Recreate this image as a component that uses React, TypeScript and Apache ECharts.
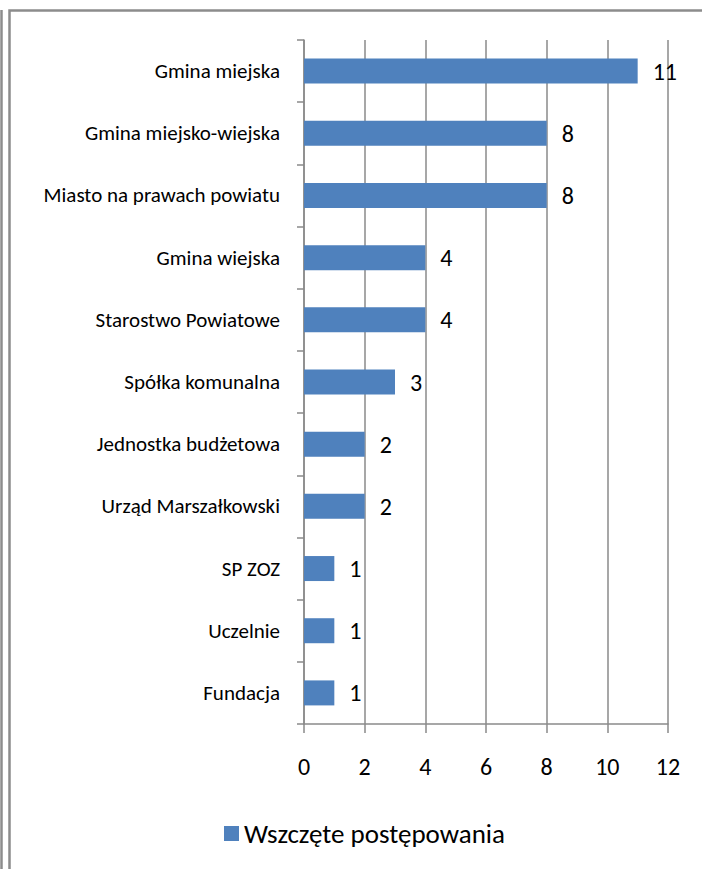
import React, { useEffect, useRef } from "react";
import * as echarts from "echarts";

const categories = [
  "Gmina miejska",
  "Gmina miejsko-wiejska",
  "Miasto na prawach powiatu",
  "Gmina wiejska",
  "Starostwo Powiatowe",
  "Spółka komunalna",
  "Jednostka budżetowa",
  "Urząd Marszałkowski",
  "SP ZOZ",
  "Uczelnie",
  "Fundacja",
];
const values = [11, 8, 8, 4, 4, 3, 2, 2, 1, 1, 1];
const seriesName = "Wszczęte postępowania";

const FONT = "Calibri, Carlito, Lato, sans-serif";
const GRAY = "#8a8a8a";

export default function App() {
  const ref = useRef<HTMLDivElement>(null);
  useEffect(() => {
    if (!ref.current) return;
    const chart = echarts.init(ref.current, null, { renderer: "svg" });
    chart.setOption({
      animation: false,
      backgroundColor: "#fff",
      textStyle: { fontFamily: FONT, color: "#000" },
      grid: { left: 304, right: 34, top: 40, bottom: 145, containLabel: false },
      xAxis: {
        type: "value",
        min: 0,
        max: 12,
        interval: 2,
        axisLine: { show: true, lineStyle: { color: GRAY, width: 1.5 } },
        axisTick: { show: true, length: 9, lineStyle: { color: GRAY, width: 1.5 } },
        splitLine: { show: true, lineStyle: { color: GRAY, width: 1.5 } },
        axisLabel: { fontSize: 24, color: "#000", margin: 30, fontFamily: FONT },
      },
      yAxis: {
        type: "category",
        data: categories,
        inverse: true,
        axisLine: { show: true, lineStyle: { color: GRAY, width: 1.5 } },
        axisTick: { show: true, length: 7, lineStyle: { color: GRAY, width: 1.5 } },
        axisLabel: { fontSize: 21, color: "#000", margin: 24, fontFamily: FONT },
      },
      legend: {
        data: [seriesName],
        left: 224,
        top: 820,
        padding: 0,
        itemWidth: 15,
        itemHeight: 15,
        icon: "rect",
        textStyle: { fontSize: 27, color: "#000", fontFamily: FONT },
      },
      series: [
        {
          name: seriesName,
          type: "bar",
          data: values,
          barWidth: 25,
          itemStyle: { color: "#4F81BD" },
          label: {
            show: true,
            position: "right",
            distance: 15,
            fontSize: 24,
            color: "#000",
            fontFamily: FONT,
          },
        },
      ],
      graphic: [
        {
          type: "line",
          shape: { x1: 1.5, y1: 10, x2: 1.5, y2: 869 },
          style: { stroke: "#8c8c8c", lineWidth: 2.5 },
        },
        {
          type: "rect",
          shape: { x: 9.5, y: 10.5, width: 800, height: 900 },
          style: { fill: "none", stroke: "#8c8c8c", lineWidth: 2.5 },
        },
      ],
    });
    return () => chart.dispose();
  }, []);
  return (
    <div
      ref={ref}
      style={{ position: "absolute", left: 0, top: 0, width: 702, height: 869 }}
    />
  );
}
